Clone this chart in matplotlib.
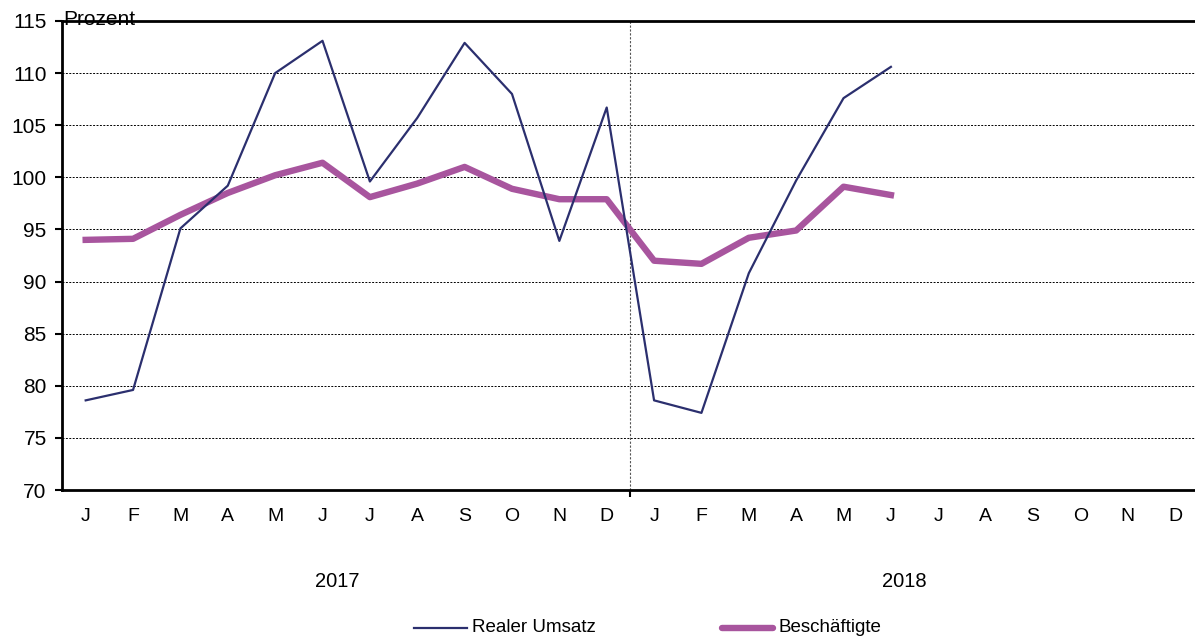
import matplotlib
matplotlib.use("Agg")
import matplotlib.pyplot as plt
from matplotlib.lines import Line2D

plt.rcParams['font.family'] = ['Liberation Sans', 'DejaVu Sans']

months = ["J", "F", "M", "A", "M", "J", "J", "A", "S", "O", "N", "D",
          "J", "F", "M", "A", "M", "J", "J", "A", "S", "O", "N", "D"]
years = ["2017", "2018"]
umsatz = [78.6, 79.6, 95.1, 99.2, 110.0, 113.1, 99.6, 105.7, 112.9, 108.0, 93.9, 106.7,
          78.6, 77.4, 90.8, 99.7, 107.6, 110.6]
beschaeftigte = [94.0, 94.1, 96.4, 98.5, 100.2, 101.4, 98.1, 99.4, 101.0, 98.9, 97.9, 97.9,
                 92.0, 91.7, 94.2, 94.9, 99.1, 98.3]
yticks = [70, 75, 80, 85, 90, 95, 100, 105, 110, 115]
legend_labels = ["Realer Umsatz", "Beschäftigte"]

navy = "#2B2F6E"
purple = "#A8559E"

W, H = 1195, 639
fig = plt.figure(figsize=(W / 100, H / 100), dpi=100)
ax = fig.add_axes([62 / W, 1 - 490 / H, (1195 - 62) / W, 469 / H])

x1 = list(range(len(umsatz)))
x2 = list(range(len(beschaeftigte)))
ax.plot(x2, beschaeftigte, color=purple, lw=4.6, solid_joinstyle='round', zorder=3)
ax.plot(x1, umsatz, color=navy, lw=1.6, zorder=4)

ax.set_xlim(-0.5, 23.42)
ax.set_ylim(70, 115)
ax.set_yticks(yticks)
ax.set_yticklabels([str(v) for v in yticks], fontsize=15)
for v in yticks[1:-1]:
    ax.axhline(v, color="black", lw=0.7, ls=(0, (2, 1.5)), zorder=1)
ax.axvline(11.5, color="#555555", lw=0.8, ls=(0, (2, 1.5)), zorder=1)

ax.set_xticks([11.5])
ax.set_xticklabels([""])
ax.tick_params(axis='x', direction='out', length=5, width=1.5)
ax.tick_params(axis='y', direction='out', length=5, width=1.5, pad=6)

for i, m in enumerate(months):
    ax.text(i, 67.5, m, ha='center', va='center', fontsize=14, clip_on=False)
ax.text(5.32, 61.2, years[0], ha='center', va='center', fontsize=14.5, clip_on=False)
ax.text(17.28, 61.2, years[1], ha='center', va='center', fontsize=14.5, clip_on=False)

ax.text(0.001, 115.1, "Prozent", transform=ax.get_yaxis_transform(),
        ha='left', va='center', fontsize=15, clip_on=False)

for s in ['top', 'left', 'bottom']:
    ax.spines[s].set_linewidth(2.0)
    ax.spines[s].set_color('black')
ax.spines['right'].set_visible(False)

# legend drawn manually in figure pixel positions
ly = 1 - 628 / H
fig.add_artist(Line2D([414 / W, 467 / W], [ly, ly], color=navy, lw=1.6,
                      transform=fig.transFigure))
fig.text(472 / W, ly, legend_labels[0], ha='left', va='center', fontsize=13.5)
fig.add_artist(Line2D([722 / W, 773 / W], [ly, ly], color=purple, lw=4.6,
                      solid_capstyle='round', transform=fig.transFigure))
fig.text(779 / W, ly, legend_labels[1], ha='left', va='center', fontsize=13.5)

fig.savefig("out.png", dpi=100)
